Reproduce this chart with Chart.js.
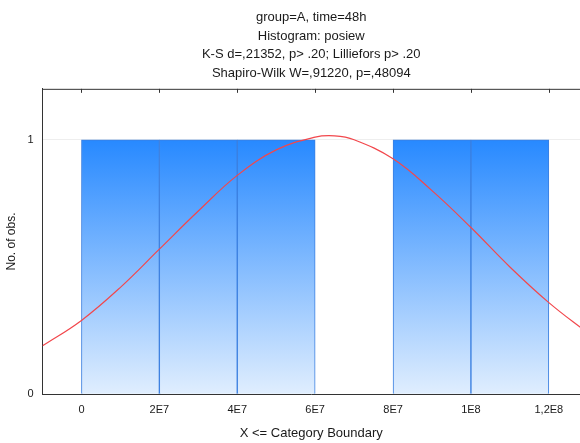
<!DOCTYPE html>
<html>
<head>
<meta charset="utf-8">
<script src="https://cdn.jsdelivr.net/npm/chart.js@4"></script>
<style>
  body { margin: 0; background: #fff; }
  #wrap { width: 580px; height: 443px; }
</style>
</head>
<body>
<div id="wrap"><canvas id="mycanvas" width="580" height="443"></canvas></div>
<script>
// histogram bins (upper boundaries) and counts
var binStart = [0, 2e7, 4e7, 6e7, 8e7, 1e8];
var binEnd = [2e7, 4e7, 6e7, 8e7, 1e8, 1.2e8];
var counts = [1, 1, 1, 0, 1, 1];

// expected normal curve
var curveX = [-1e7, 0, 1e7, 2e7, 3e7, 4e7, 5e7, 6e7, 6.5e7, 7e7, 8e7, 9e7, 1e8, 1.1e8, 1.2e8, 1.3e8];
var curveY = [0.19, 0.29, 0.42, 0.57, 0.72, 0.86, 0.96, 1.01, 1.015, 1.0, 0.925, 0.80, 0.655, 0.50, 0.36, 0.24];

var xTicks = [0, 2e7, 4e7, 6e7, 8e7, 1e8, 1.2e8];
var xTickLabels = ["0", "2E7", "4E7", "6E7", "8E7", "1E8", "1,2E8"];
var yTicks = [0, 1];

var titleLines = [
	"group=A, time=48h",
	"Histogram: posiew",
	"K-S d=,21352, p> .20; Lilliefors p> .20",
	"Shapiro-Wilk W=,91220, p=,48094"
];

var barData = [];
for (var i in counts) {
	barData.push({x: (binStart[i] + binEnd[i]) / 2, y: counts[i]});
}
var lineData = [];
for (var j in curveX) {
	lineData.push({x: curveX[j], y: curveY[j]});
}

Chart.defaults.font.family = "'Liberation Sans', Arial, sans-serif";
Chart.defaults.font.size = 11;
Chart.defaults.color = "#1a1a1a";

// top frame line with small tick marks
var frame = {
	id: "frame",
	afterDraw: function(chart) {
		var c = chart.ctx, a = chart.chartArea;
		c.save();
		c.strokeStyle = "#333";
		c.lineWidth = 1;
		c.beginPath();
		c.moveTo(a.left, a.top + 0.5);
		c.lineTo(a.right, a.top + 0.5);
		for (var k in xTicks) {
			var px = Math.round(chart.scales.x.getPixelForValue(xTicks[k])) + 0.5;
			c.moveTo(px, a.top);
			c.lineTo(px, a.top + 4);
		}
		c.stroke();
		c.restore();
	}
};

var ctx = document.getElementById("mycanvas");
var hist = new Chart(ctx, {
	type: "bar",
	data: {
		datasets: [
			{
				type: "line",
				data: lineData,
				borderColor: "#f2474c",
				borderWidth: 1.2,
				pointRadius: 0,
				tension: 0.4,
				order: 0
			},
			{
				type: "bar",
				data: barData,
				barPercentage: 1,
				categoryPercentage: 1,
				borderColor: "#3a7fe0",
				borderWidth: 1,
				borderSkipped: "bottom",
				backgroundColor: function(context) {
					var chart = context.chart;
					if (!chart.chartArea) return "#5aa5ff";
					var y = chart.scales.y;
					var g = chart.ctx.createLinearGradient(0, y.getPixelForValue(1), 0, y.getPixelForValue(0));
					g.addColorStop(0, "#2789ff");
					g.addColorStop(1, "#e0eefe");
					return g;
				},
				order: 1
			}
		]
	},
	options: {
		responsive: false,
		animation: false,
		layout: {padding: {left: 4, right: 0, top: 0, bottom: 2}},
		plugins: {
			legend: {display: false},
			tooltip: {enabled: false},
			title: {
				display: true,
				text: titleLines,
				fullSize: false,
				font: {size: 13, weight: "normal", lineHeight: 1.42},
				color: "#1a1a1a",
				padding: {top: 8.5, bottom: 6.5}
			}
		},
		scales: {
			x: {
				type: "linear",
				min: -1e7,
				max: 1.28e8,
				offset: false,
				grid: {display: false, drawTicks: false},
				border: {display: true, color: "#333", width: 1},
				afterBuildTicks: function(scale) {
					scale.ticks = xTicks.map(function(v) { return {value: v}; });
				},
				ticks: {
					padding: 9,
					maxRotation: 0,
					callback: function(v) {
						var idx = xTicks.indexOf(v);
						return idx >= 0 ? xTickLabels[idx] : "";
					}
				},
				title: {display: true, text: "X <= Category Boundary", padding: {top: 0, bottom: 0}, font: {size: 13}}
			},
			y: {
				min: 0,
				max: 1.2,
				grid: {color: "#eeeeee", drawTicks: false},
				border: {display: true, color: "#333", width: 1},
				afterBuildTicks: function(scale) {
					scale.ticks = yTicks.map(function(v) { return {value: v}; });
				},
				ticks: {padding: 9},
				title: {display: true, text: "No. of obs.", padding: {top: 0, bottom: 0}, font: {size: 12}}
			}
		}
	},
	plugins: [frame]
});
</script>
</body>
</html>
